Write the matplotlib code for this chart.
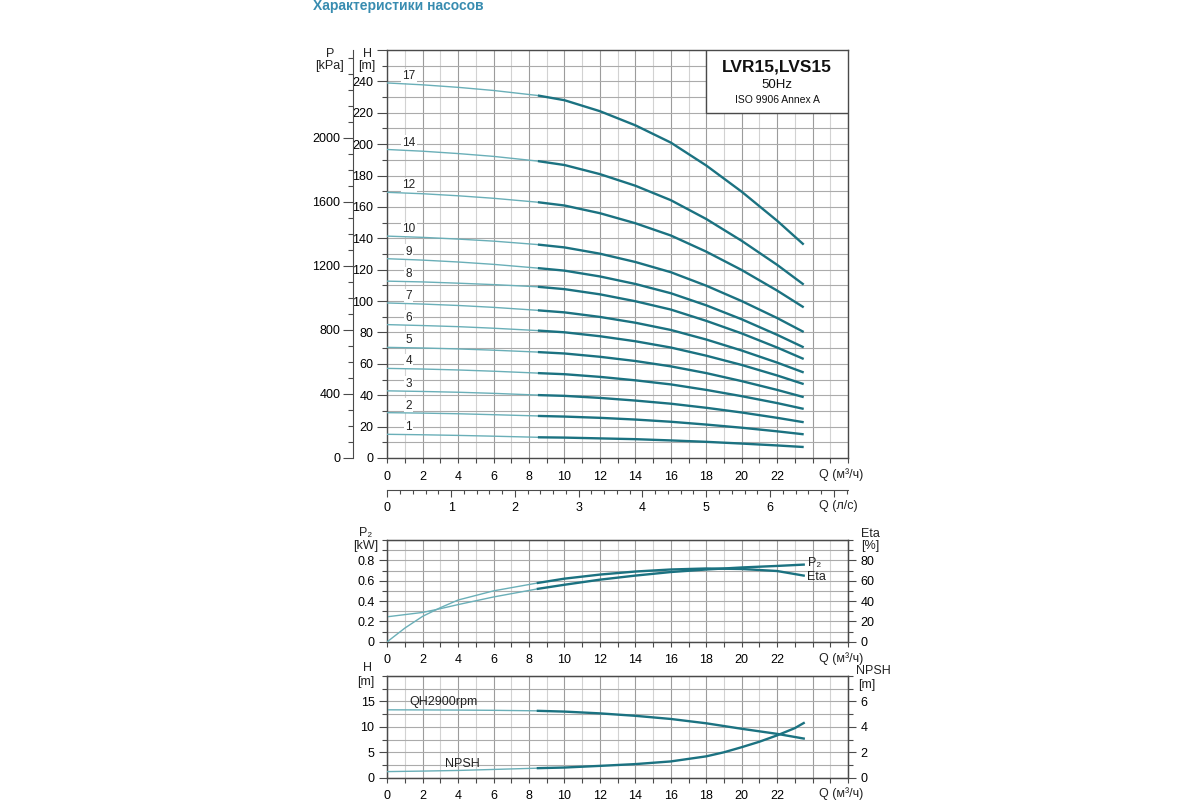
import numpy as np
import matplotlib.pyplot as plt
from matplotlib.ticker import MultipleLocator, FixedLocator, FuncFormatter
from matplotlib.patches import Rectangle

plt.rcParams['font.family'] = ['Liberation Sans', 'DejaVu Sans']
plt.rcParams['font.size'] = 9

# ---- values ----
Q_LOW  = [0, 2, 4, 6, 8.5]
Q_HIGH = [8.5, 10, 12, 14, 16, 18, 20, 22, 23.5]

STAGES = [17, 14, 12, 10, 9, 8, 7, 6, 5, 4, 3, 2, 1]
H_LOW = [
    [239.0, 237.8, 236.2, 234.2, 231.0],
    [196.6, 195.5, 194.0, 192.2, 189.2],
    [169.3, 168.4, 167.1, 165.5, 163.0],
    [141.4, 140.6, 139.5, 138.2, 136.0],
    [127.0, 126.1, 124.9, 123.4, 121.0],
    [112.7, 112.2, 111.4, 110.5, 109.1],
    [98.8, 98.1, 97.2, 96.0, 94.1],
    [85.0, 84.4, 83.7, 82.7, 81.2],
    [70.5, 70.1, 69.5, 68.7, 67.5],
    [57.1, 56.7, 56.1, 55.3, 54.1],
    [42.8, 42.4, 41.9, 41.2, 40.1],
    [28.9, 28.6, 28.2, 27.6, 26.8],
    [15.1, 14.8, 14.4, 13.9, 13.2],
]
H_HIGH = [
    [231.0, 228.0, 221.0, 212.0, 201.0, 186.4, 169.7, 151.2, 136.0],
    [189.2, 186.7, 180.9, 173.5, 164.3, 152.3, 138.4, 123.1, 110.5],
    [163.0, 160.9, 156.0, 149.6, 141.8, 131.5, 119.8, 106.7, 96.0],
    [136.0, 134.2, 130.2, 124.9, 118.4, 109.8, 100.0, 89.2, 80.3],
    [121.0, 119.4, 115.7, 110.9, 105.0, 97.3, 88.4, 78.5, 70.5],
    [109.1, 107.6, 104.3, 99.9, 94.6, 87.4, 79.4, 70.4, 63.1],
    [94.1, 92.8, 89.9, 86.2, 81.6, 75.5, 68.5, 60.8, 54.5],
    [81.2, 80.1, 77.6, 74.4, 70.4, 65.2, 59.3, 52.6, 47.1],
    [67.5, 66.6, 64.5, 61.8, 58.4, 54.1, 49.0, 43.4, 38.8],
    [54.1, 53.4, 51.7, 49.5, 46.9, 43.4, 39.4, 35.0, 31.3],
    [40.1, 39.6, 38.3, 36.6, 34.6, 32.0, 29.0, 25.6, 22.8],
    [26.8, 26.4, 25.6, 24.5, 23.1, 21.3, 19.3, 17.0, 15.1],
    [13.2, 13.0, 12.5, 12.0, 11.2, 10.3, 9.2, 8.0, 7.0],
]

Q_EFF_LOW = [0, 1, 2, 3, 4, 6, 8.5]
ETA_LOW   = [0, 13.5, 25, 33.5, 41, 50, 57.8]
ETA_HIGH  = [57.8, 62, 66, 69, 71, 72, 71.5, 69.5, 65]
Q_P2_LOW  = [0, 2, 3, 4, 6, 8.5]
P2_LOW    = [0.245, 0.288, 0.325, 0.365, 0.44, 0.52]
P2_HIGH   = [0.52, 0.56, 0.61, 0.65, 0.685, 0.71, 0.73, 0.745, 0.758]

QH_LOW  = [13.35, 13.33, 13.3, 13.25, 13.15]
QH_HIGH = [13.15, 13.0, 12.65, 12.17, 11.55, 10.7, 9.62, 8.62, 7.7]
NPSH_LOW = [0.48, 0.52, 0.57, 0.65, 0.75]
Q_NPSH_HIGH = [8.5, 10, 12, 14, 16, 18, 19, 20, 21, 22, 23, 23.5]
NPSH_HIGH = [0.75, 0.8, 0.93, 1.07, 1.28, 1.68, 2.0, 2.4, 2.83, 3.33, 3.9, 4.3]

# ---- style ----
DARK = '#1b7281'
LIGHT = '#6aafb8'
FRAME = '#4a4a4a'
GMAJ = '#9c9c9c'
GMIN = '#d2d2d2'
GHOR = '#ababab'
TITLE = '#388cb0'

W_PX, H_PX = 1200, 800
X0, X1 = 387.3, 848.0


def rect(top, bottom):
    return [X0 / W_PX, 1 - bottom / H_PX, (X1 - X0) / W_PX, (bottom - top) / H_PX]


def ftxt(x, y, s, **kw):
    fig.text(x / W_PX, 1 - y / H_PX, s, color='#222222', va='center', **kw)


def style_q_axis(a):
    a.set_xlim(0, 26)
    a.xaxis.set_major_locator(MultipleLocator(2))
    a.xaxis.set_minor_locator(MultipleLocator(1))
    a.xaxis.set_major_formatter(FuncFormatter(lambda v, p: '' if v > 22.5 else f'{v:g}'))
    a.tick_params(axis='x', which='both', length=3.6, pad=5.5, color=FRAME, width=0.8)
    a.grid(True, axis='x', which='major', color=GMAJ, lw=0.8)
    a.grid(True, axis='x', which='minor', color=GMIN, lw=0.8)
    for s in a.spines.values():
        s.set_color(FRAME)
        s.set_linewidth(1.0)
    a.set_axisbelow(True)


fig = plt.figure(figsize=(12, 8), dpi=100)

fig.text(313 / W_PX, 1 - 6 / H_PX, 'Характеристики насосов', color=TITLE,
         fontsize=10, fontweight='bold', va='center', ha='left')

# ---- Q-H chart ----
ax = fig.add_axes(rect(50, 458))
style_q_axis(ax)
ax.set_ylim(0, 260)
ax.yaxis.set_major_locator(MultipleLocator(20))
ax.yaxis.set_minor_locator(MultipleLocator(10))
ax.yaxis.set_major_formatter(FuncFormatter(lambda v, p: '' if v > 250 else f'{v:g}'))
ax.tick_params(axis='y', which='major', length=7.2, pad=2.9, color=FRAME, width=0.8)
ax.tick_params(axis='y', which='minor', length=3.6, color=FRAME, width=0.8)
ax.grid(True, axis='y', which='both', color=GHOR, lw=0.8)

for n, hl, hh in zip(STAGES, H_LOW, H_HIGH):
    ax.plot(Q_LOW, hl, color=LIGHT, lw=1.0, zorder=3)
    ax.plot(Q_HIGH, hh, color=DARK, lw=1.7, zorder=3, solid_capstyle='butt')
    ax.annotate(str(n), (1.2, hl[0]), xytext=(0, 5), textcoords='offset points',
                ha='center', va='center', fontsize=8.5, color='#222222', zorder=2.5,
                bbox=dict(boxstyle='square,pad=0.12', fc='white', ec='none'))

ax.add_patch(Rectangle((18, 220), 8, 40, fc='white', ec=FRAME, lw=1.0, zorder=4))
ax.text(22, 249.2, 'LVR15,LVS15', ha='center', va='center', fontsize=12.5,
        fontweight='bold', color='#111111', zorder=5)
ax.text(22, 237.6, '50Hz', ha='center', va='center', fontsize=9.5, color='#111111', zorder=5)
ax.text(22, 228.2, 'ISO 9906 Annex A', ha='center', va='center', fontsize=7.5,
        color='#111111', zorder=5)

# pressure scale in kPa
axp = fig.add_axes(rect(50, 458))
axp.patch.set_visible(False)
for k in ('top', 'right', 'bottom'):
    axp.spines[k].set_visible(False)
axp.spines['left'].set_position(('outward', 24.5))
axp.spines['left'].set_color(FRAME)
axp.set_xticks([])
axp.set_ylim(0, 260 * 9.80665)
axp.yaxis.set_major_locator(FixedLocator([0, 400, 800, 1200, 1600, 2000]))
axp.yaxis.set_minor_locator(MultipleLocator(100))
axp.tick_params(axis='y', which='major', length=7.2, pad=2.2, color=FRAME, width=0.8)
axp.tick_params(axis='y', which='minor', length=3.6, color=FRAME, width=0.8)

ftxt(330, 54, 'P', ha='center')
ftxt(329, 66, '[kPa]', ha='center')
ftxt(367, 54, 'H', ha='center')
ftxt(367, 66, '[m]', ha='center')
ftxt(819, 475, 'Q (м³/ч)', ha='left')

# l/s scale
axl = fig.add_axes([X0 / W_PX, 1 - 490 / H_PX, (X1 - X0) / W_PX, 0.001])
axl.patch.set_visible(False)
for k in ('top', 'right', 'left'):
    axl.spines[k].set_visible(False)
axl.spines['bottom'].set_color(FRAME)
axl.set_yticks([])
axl.set_xlim(0, 26 / 3.6)
axl.xaxis.set_major_locator(MultipleLocator(1))
axl.xaxis.set_minor_locator(MultipleLocator(0.2))
axl.xaxis.set_major_formatter(FuncFormatter(lambda v, p: '' if v > 6.5 else f'{v:g}'))
axl.tick_params(axis='x', which='major', length=5, pad=3.5, color=FRAME, width=0.8)
axl.tick_params(axis='x', which='minor', length=3, color=FRAME, width=0.8)
ftxt(819, 506, 'Q (л/с)', ha='left')

# ---- P2 / Eta chart ----
ax2 = fig.add_axes(rect(540, 641.7))
style_q_axis(ax2)
ax2.set_ylim(0, 1.0)
ax2.yaxis.set_major_locator(FixedLocator([0, 0.2, 0.4, 0.6, 0.8]))
ax2.yaxis.set_minor_locator(MultipleLocator(0.1))
ax2.yaxis.set_major_formatter(FuncFormatter(lambda v, p: f'{v:g}'))
ax2.tick_params(axis='y', which='major', length=6, pad=3.2, color=FRAME, width=0.8)
ax2.tick_params(axis='y', which='minor', length=3.6, color=FRAME, width=0.8)
ax2.grid(True, axis='y', which='both', color=GHOR, lw=0.8)
ax2.plot(Q_P2_LOW, P2_LOW, color=LIGHT, lw=1.0, zorder=3)
ax2.plot(Q_HIGH, P2_HIGH, color=DARK, lw=1.7, zorder=3)

ax2e = ax2.twinx()
ax2e.set_ylim(0, 100)
ax2e.yaxis.set_major_locator(FixedLocator([0, 20, 40, 60, 80]))
ax2e.yaxis.set_minor_locator(MultipleLocator(10))
ax2e.tick_params(axis='y', which='major', length=6, pad=3, color=FRAME, width=0.8)
ax2e.tick_params(axis='y', which='minor', length=3.6, color=FRAME, width=0.8)
for s in ax2e.spines.values():
    s.set_color(FRAME)
ax2e.plot(Q_EFF_LOW, ETA_LOW, color=LIGHT, lw=1.0, zorder=3)
ax2e.plot(Q_HIGH, ETA_HIGH, color=DARK, lw=1.7, zorder=3)

ftxt(366, 533, 'P₂', ha='center')
ftxt(366, 546, '[kW]', ha='center')
ftxt(870, 534, 'Eta', ha='center')
ftxt(870, 546, '[%]', ha='center')
ftxt(808, 563, 'P₂', ha='left')
ftxt(807, 577, 'Eta', ha='left')
ftxt(819, 659, 'Q (м³/ч)', ha='left')

# ---- H / NPSH chart ----
ax3 = fig.add_axes(rect(676, 777.7))
style_q_axis(ax3)
ax3.set_ylim(0, 20)
ax3.yaxis.set_major_locator(FixedLocator([0, 5, 10, 15]))
ax3.yaxis.set_minor_locator(MultipleLocator(2.5))
ax3.tick_params(axis='y', which='major', length=6, pad=3.2, color=FRAME, width=0.8)
ax3.tick_params(axis='y', which='minor', length=3.6, color=FRAME, width=0.8)
ax3.grid(True, axis='y', which='both', color=GHOR, lw=0.8)
ax3.plot(Q_LOW, QH_LOW, color=LIGHT, lw=1.0, zorder=3)
ax3.plot(Q_HIGH, QH_HIGH, color=DARK, lw=1.7, zorder=3)

ax3n = ax3.twinx()
ax3n.set_ylim(0, 8)
ax3n.yaxis.set_major_locator(FixedLocator([0, 2, 4, 6]))
ax3n.yaxis.set_minor_locator(MultipleLocator(1))
ax3n.tick_params(axis='y', which='major', length=6, pad=3, color=FRAME, width=0.8)
ax3n.tick_params(axis='y', which='minor', length=3.6, color=FRAME, width=0.8)
for s in ax3n.spines.values():
    s.set_color(FRAME)
ax3n.plot(Q_LOW, NPSH_LOW, color=LIGHT, lw=1.0, zorder=3)
ax3n.plot(Q_NPSH_HIGH, NPSH_HIGH, color=DARK, lw=1.7, zorder=3)

ftxt(368, 668, 'H', ha='center')
ftxt(366, 682, '[m]', ha='center')
ftxt(873, 671, 'NPSH', ha='center')
ftxt(867, 685, '[m]', ha='center')
ftxt(443, 702, 'QH2900rpm', ha='center')
ftxt(462, 764, 'NPSH', ha='center')
ftxt(819, 794, 'Q (м³/ч)', ha='left')

fig.savefig('out.png', dpi=100, facecolor='white')
